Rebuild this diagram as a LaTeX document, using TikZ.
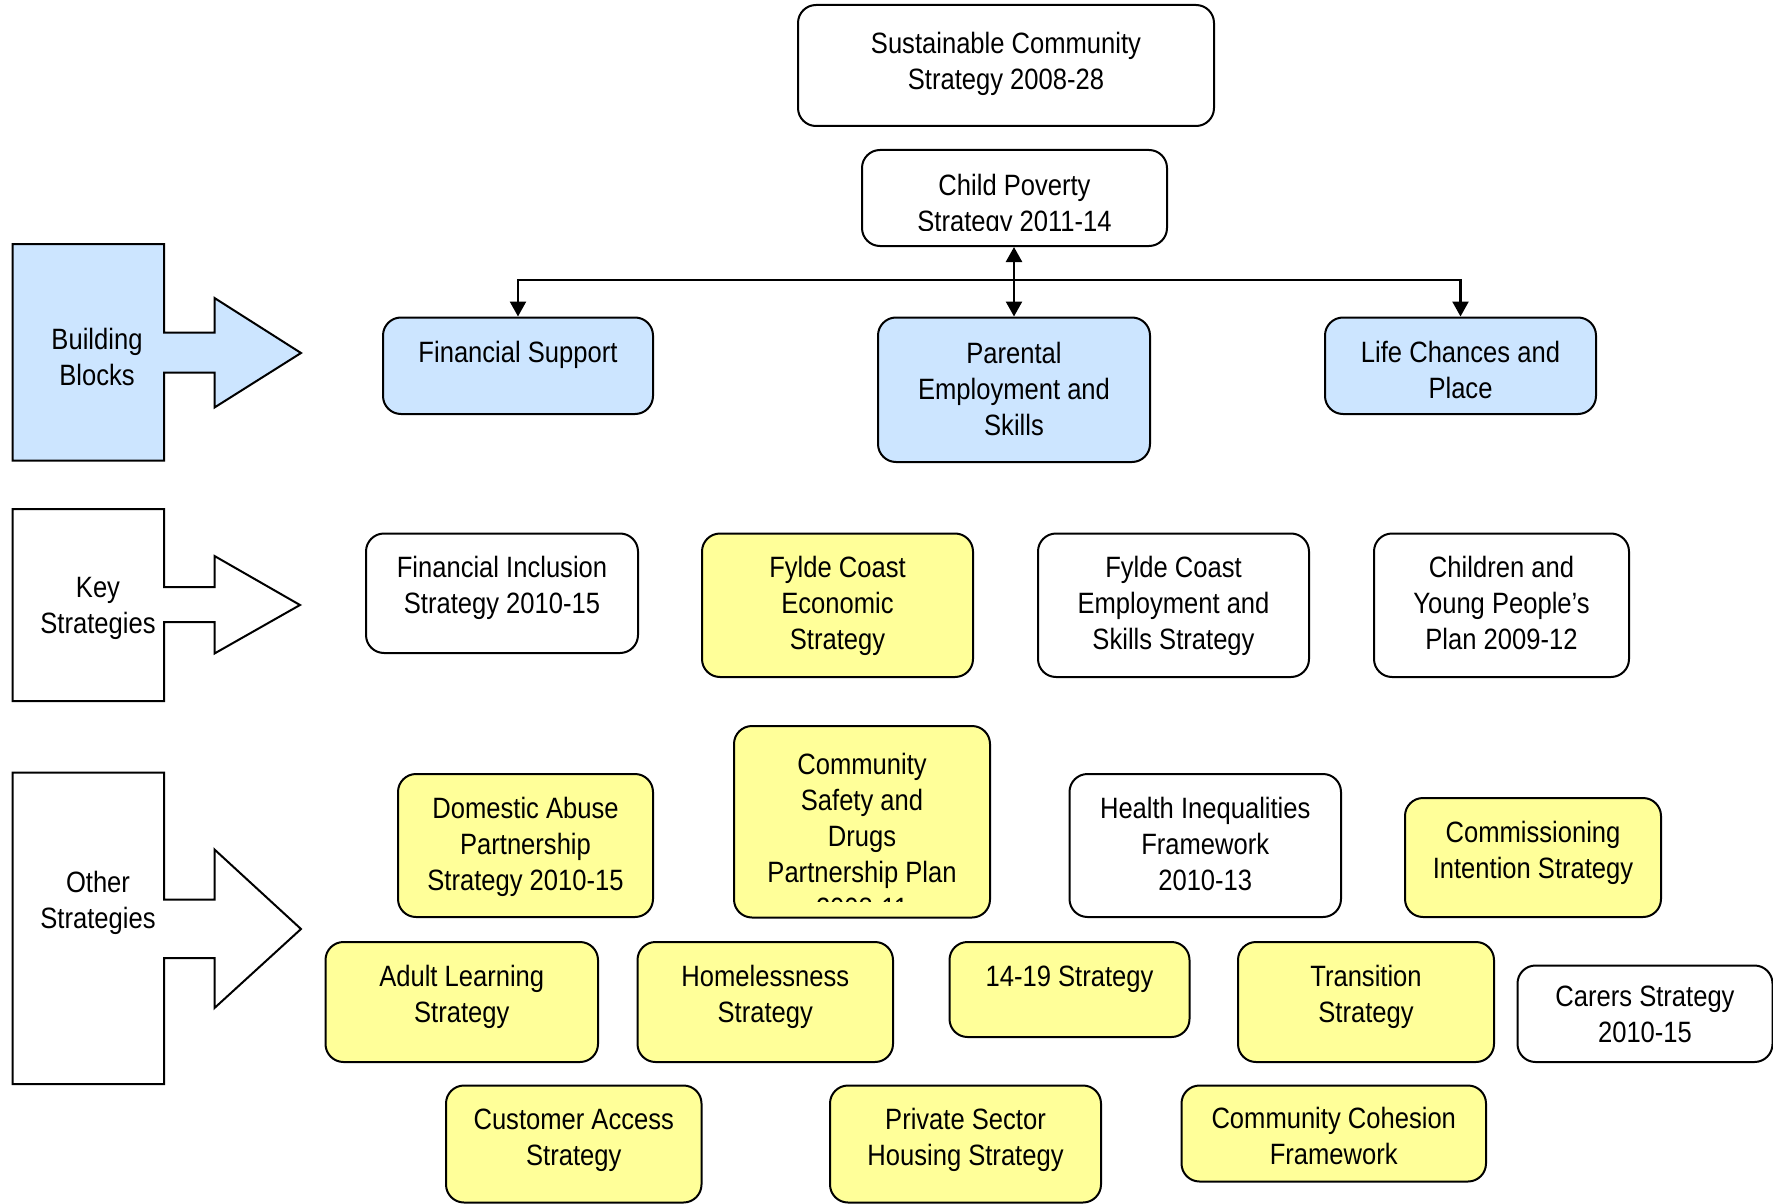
\documentclass[tikz,border=0pt]{standalone}
\usepackage{fontspec}
\setmainfont{Liberation Sans}[FakeStretch=0.87]
\usetikzlibrary{arrows.meta}
\definecolor{bbblue}{RGB}{204,229,255}
\definecolor{yel}{RGB}{255,255,153}
\newcommand\toplines[1]{\begin{tabular}[t]{@{}c@{}}#1\end{tabular}}
\tikzset{
  px/.style={x=0.5pt,y=-0.5pt},
  sbox/.style={draw=black, line width=1pt, rounded corners=9pt, inner sep=0pt, anchor=north west},
  btxt/.style={anchor=base, inner sep=0pt, font=\fontsize{14.7}{18}\selectfont},
  conn/.style={line width=1.2pt, draw=black},
  tipend/.style={-{Triangle[width=8pt,length=7.5pt]}},
  tipboth/.style={{Triangle[width=8pt,length=7.5pt]}-{Triangle[width=8pt,length=7.5pt]}},
  bigarrow/.style={draw=black, line width=1pt, line join=miter},
}
% #1 name, #2 x1, #3 y1, #4 x2, #5 y2, #6 fill, #7 first-baseline offset, #8 text
\newcommand\mybox[8]{%
  \node[sbox, fill=#6, minimum width={(#4-#2)*0.5pt}, minimum height={(#5-#3)*0.5pt}] (#1) at (#2,#3) {};
  \node[btxt] (#1-t) at ([yshift={-#7*0.5pt}]#1.north) {\toplines{#8}};
}
\begin{document}
\begin{tikzpicture}[px]
\path[fill=white, use as bounding box] (0,0) rectangle (1773,1204);

% big left arrows
\draw[bigarrow, fill=bbblue] (12.5,244) -- (164,244) -- (164,332.5) -- (214.5,332.5) -- (214.5,298) -- (301,353) -- (214.5,407.5) -- (214.5,372.5) -- (164,372.5) -- (164,460.5) -- (12.5,460.5) -- cycle;
\node[btxt] (bb) at (97,349) {\toplines{Building\\Blocks}};

\draw[bigarrow, fill=white] (12.5,509) -- (164,509) -- (164,587) -- (214.5,587) -- (214.5,556) -- (300,605) -- (214.5,653.5) -- (214.5,622) -- (164,622) -- (164,701) -- (12.5,701) -- cycle;
\node[btxt] (ks) at (98,597) {\toplines{Key\\Strategies}};

\draw[bigarrow, fill=white] (12.5,772.5) -- (164,772.5) -- (164,899.5) -- (214.5,899.5) -- (214.5,849.5) -- (301,929) -- (214.5,1008) -- (214.5,958) -- (164,958) -- (164,1084) -- (12.5,1084) -- cycle;
\node[btxt] (os) at (98,892) {\toplines{Other\\Strategies}};

% boxes
\mybox{sc}{797}{4}{1213}{125}{white}{50}{Sustainable Community\\Strategy 2008-28}
\mybox{cp}{861}{149}{1166}{245}{white}{46}{}
\begin{scope}
  \clip (861,149) rectangle (1166,230);
  \node[btxt] (cp-t) at ([yshift={-46*0.5pt}]cp.north) {\toplines{Child Poverty\\Strategy 2011-14}};
\end{scope}
\mybox{fs}{382}{316.5}{652}{413}{bbblue}{45.5}{Financial Support}
\mybox{pe}{877}{316.5}{1149}{461}{bbblue}{47}{Parental\\Employment and\\Skills}
\mybox{lc}{1324}{316.5}{1595}{413}{bbblue}{45.5}{Life Chances and\\Place}

\mybox{fi}{365}{532.5}{637}{652}{white}{44.7}{Financial Inclusion\\Strategy 2010-15}
\mybox{fe}{701}{532.5}{972}{676}{yel}{45}{Fylde Coast\\Economic\\Strategy}
\mybox{fk}{1037}{532.5}{1308}{676}{white}{45}{Fylde Coast\\Employment and\\Skills Strategy}
\mybox{cy}{1373}{532.5}{1628}{676}{white}{45}{Children and\\Young People’s\\Plan 2009-12}

\mybox{da}{397}{773}{652}{916}{yel}{45}{Domestic Abuse\\Partnership\\Strategy 2010-15}
\mybox{cs}{733}{725}{989}{916.5}{yel}{49}{}
\begin{scope}
  \clip (733,725) rectangle (989,901.5);
  \node[btxt] (cs-t) at ([yshift={-49*0.5pt}]cs.north) {\toplines{Community\\Safety and\\Drugs\\Partnership Plan\\2008-11}};
\end{scope}
\mybox{hi}{1068.5}{773}{1340}{916}{white}{45}{Health Inequalities\\Framework\\2010-13}
\mybox{ci}{1404}{797}{1660}{916}{yel}{45}{Commissioning\\Intention Strategy}

\mybox{al}{324.5}{941}{597}{1061}{yel}{45}{Adult Learning\\Strategy}
\mybox{hs}{636.5}{941}{892}{1061}{yel}{45}{Homelessness\\Strategy}
\mybox{a14}{948.5}{941}{1188.5}{1036}{yel}{45}{14-19 Strategy}
\mybox{ts}{1237}{941}{1493}{1061}{yel}{45}{Transition\\Strategy}
\mybox{ca}{1516.5}{964.5}{1771.5}{1061}{white}{42}{Carers Strategy\\2010-15}

\mybox{cu}{445}{1084.5}{700.5}{1201.5}{yel}{45}{Customer Access\\Strategy}
\mybox{ps}{829}{1084.5}{1100}{1201.5}{yel}{45}{Private Sector\\Housing Strategy}
\mybox{cc}{1180.5}{1084.5}{1485}{1180.5}{yel}{44}{Community Cohesion\\Framework}

% connectors
\coordinate (hy) at (0,280);
\coordinate (jn) at (pe.north |- hy);
\draw[conn, tipboth] (cp.south -| pe.north) -- (pe.north);
\draw[conn, tipend] (jn) -| (fs.north);
\draw[conn, tipend] (jn) -| (lc.north);
\end{tikzpicture}
\end{document}
